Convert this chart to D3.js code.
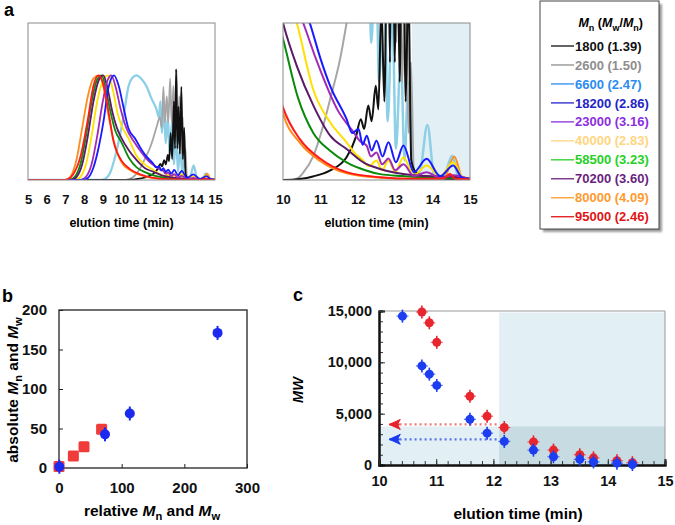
<!DOCTYPE html>
<html>
<head>
<meta charset="utf-8">
<script src="https://cdn.jsdelivr.net/npm/d3@7"></script>
<style>
body { margin: 0; background: #fff; }
svg { font-family: "Liberation Sans", Arial, sans-serif; font-weight: bold; }
</style>
</head>
<body>
<div id="chart"></div>
<script>
//1. Data
// legend: Mn and PDI of each sample
var mnValues = ["1800", "2600", "6600", "18200", "23000", "40000", "58500", "70200", "80000", "95000"];
var pdiValues = ["1.39", "1.50", "2.47", "2.86", "3.16", "2.83", "3.23", "3.60", "4.09", "2.46"];

// chromatograms [elution time (min), normalised intensity]
var curve1800 = [[5,0],[10,0],[10.5,0.003],[10.8,0.009],[11.25,0.024],[11.7,0.058],[11.95,0.11],[12.08,0.155],[12.17,0.13],[12.28,0.19],[12.37,0.15],[12.48,0.24],[12.55,0.18],[12.63,0.45],[12.71,0.2],[12.8,0.75],[12.86,0.3],[12.92,1.06],[12.99,0.3],[13.05,0.7],[13.12,0.25],[13.2,0.89],[13.28,0.2],[13.35,0.5],[13.43,0.05],[13.55,0.02],[13.8,0.008],[14.2,0.004],[15,0.002]];
var curve2600 = [[5,0],[10.2,0],[10.4,0.005],[10.55,0.02],[10.81,0.061],[11.05,0.13],[11.26,0.206],[11.53,0.31],[11.7,0.4],[11.9,0.52],[12.05,0.6],[12.15,0.5],[12.24,0.89],[12.32,0.55],[12.42,0.8],[12.5,0.55],[12.6,0.97],[12.68,0.55],[12.78,0.9],[12.86,0.45],[12.95,1.05],[13.03,0.35],[13.1,0.8],[13.18,0.25],[13.28,0.6],[13.36,0.12],[13.42,0.3],[13.5,0.02],[13.7,0.005],[15,0]];
var curve6600 = [[5,0],[8.8,0],[9.1,0.01],[9.38,0.064],[9.7,0.25],[10.1,0.6],[10.37,0.89],[10.6,0.98],[10.81,1.0],[11.05,0.97],[11.35,0.89],[11.6,0.78],[11.88,0.67],[12.0,0.6],[12.08,0.75],[12.16,0.45],[12.27,0.7],[12.36,0.35],[12.48,0.6],[12.57,0.25],[12.7,0.55],[12.8,0.15],[12.92,0.45],[13.02,0.08],[13.15,0.32],[13.25,0.05],[13.35,0.25],[13.48,0.02],[13.65,0.02],[13.86,0.14],[14.05,0.01],[14.3,0.01],[14.52,0.062],[14.7,0.005],[15,0]];
var curve18200 = [[5,0],[7.9,0],[8.2,0.02],[8.5,0.12],[8.8,0.33],[9.03,0.55],[9.3,0.88],[9.6,1.0],[9.85,0.9],[10.1,0.7],[10.36,0.5],[10.75,0.39],[11.0,0.31],[11.26,0.24],[11.7,0.155],[11.85,0.12],[12.02,0.13],[12.13,0.09],[12.24,0.113],[12.37,0.075],[12.5,0.1],[12.66,0.06],[12.82,0.096],[13.02,0.045],[13.22,0.088],[13.5,0.02],[13.84,0.054],[14.2,0.01],[14.55,0.037],[14.8,0.005],[15,0.003]];
var curve23000 = [[5,0],[7.8,0],[8.1,0.03],[8.4,0.15],[8.7,0.42],[9.0,0.75],[9.25,0.95],[9.45,1.0],[9.7,0.88],[9.95,0.68],[10.25,0.5],[10.69,0.36],[11.02,0.274],[11.45,0.18],[11.9,0.12],[12.05,0.1],[12.24,0.087],[12.35,0.06],[12.5,0.07],[12.65,0.04],[12.82,0.055],[13.0,0.025],[13.22,0.04],[13.5,0.01],[13.84,0.02],[14.2,0.005],[14.55,0.012],[15,0.002]];
var curve40000 = [[5,0],[7.5,0],[7.8,0.03],[8.1,0.15],[8.4,0.42],[8.7,0.75],[9.0,0.95],[9.3,1.0],[9.55,0.85],[9.8,0.63],[10.05,0.5],[10.37,0.4],[10.81,0.23],[11.26,0.147],[11.7,0.096],[11.95,0.065],[12.1,0.054],[12.3,0.035],[12.5,0.05],[12.65,0.025],[12.82,0.05],[13.0,0.02],[13.22,0.058],[13.5,0.012],[13.84,0.037],[14.2,0.01],[14.55,0.045],[14.8,0.008],[15,0.005]];
var curve58500 = [[5,0],[7.2,0],[7.5,0.03],[7.8,0.15],[8.1,0.42],[8.4,0.75],[8.7,0.96],[8.94,1.0],[9.15,0.88],[9.4,0.66],[9.65,0.48],[10.0,0.36],[10.4,0.21],[10.81,0.12],[11.25,0.075],[11.7,0.045],[12.2,0.025],[12.6,0.015],[13.2,0.01],[13.85,0.006],[14.55,0.005],[15,0.002]];
var curve70200 = [[5,0],[7.3,0],[7.6,0.03],[7.9,0.15],[8.2,0.42],[8.5,0.75],[8.8,0.96],[9.03,1.0],[9.25,0.88],[9.5,0.66],[9.75,0.5],[10.0,0.4],[10.37,0.29],[10.81,0.19],[11.26,0.113],[11.7,0.079],[12.15,0.045],[12.6,0.028],[13.22,0.015],[13.84,0.01],[14.55,0.008],[15,0.003]];
var curve80000 = [[5,0],[7.0,0],[7.3,0.04],[7.6,0.2],[7.9,0.5],[8.2,0.8],[8.5,0.97],[8.8,1.0],[9.05,0.88],[9.3,0.62],[9.55,0.4],[9.8,0.25],[10.0,0.17],[10.45,0.095],[11.0,0.048],[11.7,0.017],[12.6,0.006],[13.5,0.003],[14.3,0.004],[14.58,0.06],[14.8,0.005],[15,0.002]];
var curve95000 = [[5,0],[6.8,0],[7.1,0.005],[7.4,0.05],[7.8,0.22],[8.2,0.58],[8.5,0.9],[8.76,1.0],[9.0,0.93],[9.2,0.76],[9.4,0.55],[9.56,0.38],[9.75,0.27],[10.0,0.185],[10.45,0.104],[11.0,0.054],[11.7,0.02],[12.6,0.007],[13.5,0.003],[14.3,0.004],[14.47,0.015],[14.6,0.003],[15,0.002]];

// panel b: absolute vs relative molecular weight (kDa)
var bRelRed = [0, 22.9, 39.9, 68];
var bAbsRed = [2, 15.2, 27, 49];
var bRelBlue = [0.5, 73.4, 113, 253];
var bAbsBlue = [1.6, 42.6, 69, 171];

// panel c: MW against elution time
var cTimeRed = [10.75, 10.88, 11.01, 11.59, 11.89, 12.19, 12.70, 13.05, 13.51, 13.75, 14.16, 14.43];
var cMwRed = [14900, 13850, 11950, 6700, 4750, 3650, 2250, 1450, 1000, 700, 420, 220];
var cTimeBlue = [10.41, 10.75, 10.88, 11.01, 11.59, 11.89, 12.19, 12.70, 13.05, 13.51, 13.75, 14.16, 14.43];
var cMwBlue = [14500, 9650, 8850, 7750, 4450, 3100, 2300, 1450, 800, 550, 300, 180, 50];
var cLimitRed = 3950;
var cLimitBlue = 2500;

//2. Series table (draw order, bottom first)
var curves = [curve1800, curve2600, curve6600, curve18200, curve23000, curve40000, curve58500, curve70200, curve80000, curve95000];
var lineColors = ["#111111", "#a6a6a6", "#8ccfe6", "#1a1aff", "#a12bb5", "#ffe000", "#0a8a0a", "#5a1a66", "#ff8c1a", "#ff1a1a"];
var legendColors = ["#111111", "#8e8e8e", "#2b8cf0", "#2323c8", "#8b2ee0", "#ffd580", "#25d025", "#6a1f7e", "#ff9a2e", "#e01515"];
var drawOrder = [2, 1, 0, 8, 5, 6, 7, 4, 3, 9];

var svg = d3.select("#chart").append("svg")
    .attr("width", 675)
    .attr("height", 525);

var defs = svg.append("defs");
defs.append("filter").attr("id", "soft")
    .append("feGaussianBlur").attr("stdDeviation", 0.6);
defs.append("filter").attr("id", "shadow")
    .append("feGaussianBlur").attr("stdDeviation", 1.2);

// helper for italic / subscript labels
function richText(sel, parts, size) {
    var sub = false;
    parts.forEach(function (p) {
        var ts = sel.append("tspan").text(p.t);
        if (p.i) ts.attr("font-style", "italic");
        if (p.s) {
            ts.attr("font-size", size * 0.72);
            if (!sub) ts.attr("dy", size * 0.28);
            sub = true;
        } else if (sub) {
            ts.attr("dy", -size * 0.28);
            sub = false;
        }
    });
}

function panelLetter(x, y, s) {
    svg.append("text").attr("x", x).attr("y", y)
        .attr("font-size", "18px").text(s);
}

//3. Panel a - chromatograms
function chromPanel(x, y, clipId, lw) {
    var g = svg.append("g");
    defs.append("clipPath").attr("id", clipId).append("rect")
        .attr("x", x.range()[0]).attr("y", y.range()[1])
        .attr("width", x.range()[1] - x.range()[0])
        .attr("height", y.range()[0] - y.range()[1]);
    var line = d3.line()
        .x(function (d) { return x(d[0]); })
        .y(function (d) { return y(d[1]); })
        .curve(d3.curveMonotoneX);
    var inner = g.append("g").attr("clip-path", "url(#" + clipId + ")");
    drawOrder.forEach(function (k) {
        inner.append("path")
            .attr("d", line(curves[k]))
            .attr("fill", "none")
            .attr("stroke", lineColors[k])
            .attr("stroke-width", k == 2 ? lw + 0.5 : lw)
            .attr("stroke-linejoin", "round");
    });
    g.append("rect")
        .attr("x", x.range()[0]).attr("y", y.range()[1])
        .attr("width", x.range()[1] - x.range()[0])
        .attr("height", y.range()[0] - y.range()[1])
        .attr("fill", "none").attr("stroke", "#8a8a8a").attr("stroke-width", 1);
    var ax = g.append("g")
        .attr("transform", "translate(0," + y.range()[0] + ")")
        .call(d3.axisBottom(x).tickValues(d3.range(x.domain()[0], x.domain()[1] + 1)).tickFormat(d3.format("d")).tickSize(0).tickPadding(15));
    ax.select(".domain").remove();
    ax.selectAll("text").attr("font-size", "13px").attr("font-family", null).attr("fill", "#111");
    g.append("text")
        .attr("x", (x.range()[0] + x.range()[1]) / 2)
        .attr("y", 227)
        .attr("text-anchor", "middle")
        .attr("font-size", "12.5px")
        .text("elution time (min)");
    return g;
}

var xa1 = d3.scaleLinear().domain([5, 15]).range([28, 215]);
var ya1 = d3.scaleLinear().domain([0, 1.5]).range([180, 23]);
var xa2 = d3.scaleLinear().domain([10, 15]).range([283, 470]);
var ya2 = d3.scaleLinear().domain([0, 0.4]).range([180, 23]);

// shaded oligomer region on the zoomed chromatogram
svg.append("rect")
    .attr("x", xa2(13.45)).attr("y", ya2(0.4))
    .attr("width", xa2(15) - xa2(13.45))
    .attr("height", ya2(0) - ya2(0.4))
    .attr("fill", "#e2f0f6");

chromPanel(xa1, ya1, "clipA1", 1.8);
chromPanel(xa2, ya2, "clipA2", 2);
panelLetter(4, 16, "a");

//4. Legend
var legend = svg.append("g");
legend.append("rect")
    .attr("x", 543).attr("y", 4).attr("width", 119).attr("height", 228)
    .attr("fill", "#9a9a9a").attr("filter", "url(#shadow)");
legend.append("rect")
    .attr("x", 540).attr("y", 1).attr("width", 119).attr("height", 228)
    .attr("fill", "#fff").attr("stroke", "#444").attr("stroke-width", 1);
var title = legend.append("text")
    .attr("x", 643).attr("y", 27)
    .attr("text-anchor", "end")
    .attr("font-size", "12.5px");
richText(title, [{t: "M", i: 1}, {t: "n", s: 1}, {t: " ("}, {t: "M", i: 1}, {t: "w", s: 1}, {t: "/"}, {t: "M", i: 1}, {t: "n", s: 1}, {t: ")"}], 12.5);

mnValues.forEach(function (mn, i) {
    var row = legend.append("g")
        .attr("transform", "translate(0," + (46 + i * 18.97) + ")");
    row.append("line")
        .attr("x1", 551).attr("x2", 574)
        .attr("stroke", legendColors[i]).attr("stroke-width", 1.3);
    row.append("text")
        .attr("x", 575).attr("y", 4.6)
        .attr("font-size", "13px")
        .attr("fill", legendColors[i])
        .text(mn + " (" + pdiValues[i] + ")");
});

//5. Panel b
var xb = d3.scaleLinear().domain([0, 300]).range([59, 247]);
var yb = d3.scaleLinear().domain([0, 200]).range([468, 310]);
var gb = svg.append("g");

gb.append("rect")
    .attr("x", 59).attr("y", 310).attr("width", 188).attr("height", 158)
    .attr("fill", "none").attr("stroke", "#222").attr("stroke-width", 1.3);

var bxAxis = gb.append("g").attr("transform", "translate(0,468)")
    .call(d3.axisBottom(xb).tickValues([0, 100, 200, 300]).tickSize(-4).tickPadding(14));
var byAxis = gb.append("g").attr("transform", "translate(59,0)")
    .call(d3.axisLeft(yb).tickValues([0, 50, 100, 150, 200]).tickSize(-4).tickPadding(12));
[bxAxis, byAxis].forEach(function (a) {
    a.select(".domain").remove();
    a.selectAll("text").attr("font-size", "15px").attr("font-family", null).attr("fill", "#111");
    a.selectAll("line").attr("stroke", "#222");
});

gb.selectAll(".sq").data(bRelRed).enter().append("rect")
    .attr("x", function (d) { return xb(d) - 5.5; })
    .attr("y", function (d, i) { return yb(bAbsRed[i]) - 5.5; })
    .attr("width", 11).attr("height", 11).attr("rx", 1.5)
    .attr("fill", "#f03a3a").attr("filter", "url(#soft)");

gb.selectAll(".eb").data(bRelBlue).enter().append("line")
    .attr("x1", function (d) { return xb(d); })
    .attr("x2", function (d) { return xb(d); })
    .attr("y1", function (d, i) { return yb(bAbsBlue[i]) - 7; })
    .attr("y2", function (d, i) { return yb(bAbsBlue[i]) + 7; })
    .attr("stroke", "#1a2cf0").attr("stroke-width", 2);
gb.selectAll(".dot").data(bRelBlue).enter().append("circle")
    .attr("cx", function (d) { return xb(d); })
    .attr("cy", function (d, i) { return yb(bAbsBlue[i]); })
    .attr("r", 5)
    .attr("fill", "#1a2cf0").attr("filter", "url(#soft)");

var bxl = gb.append("text").attr("x", 152).attr("y", 516)
    .attr("text-anchor", "middle").attr("font-size", "15.5px");
richText(bxl, [{t: "relative "}, {t: "M", i: 1}, {t: "n", s: 1}, {t: " and "}, {t: "M", i: 1}, {t: "w", s: 1}], 15.5);
var byl = gb.append("text")
    .attr("transform", "translate(18,390) rotate(-90)")
    .attr("text-anchor", "middle").attr("font-size", "15.5px");
richText(byl, [{t: "absolute "}, {t: "M", i: 1}, {t: "n", s: 1}, {t: " and "}, {t: "M", i: 1}, {t: "w", s: 1}], 15.5);
panelLetter(2, 302, "b");

//6. Panel c
var xc = d3.scaleLinear().domain([10, 15]).range([379, 665]);
var yc = d3.scaleLinear().domain([0, 15000]).range([465, 311]);
var gc = svg.append("g");

// shaded regions: late elution window and low-MW strip
gc.append("rect")
    .attr("x", xc(12.1)).attr("y", yc(14850))
    .attr("width", xc(15) - xc(12.1)).attr("height", yc(0) - yc(14850))
    .attr("fill", "#e2f0f6");
gc.append("rect")
    .attr("x", xc(10)).attr("y", yc(3750))
    .attr("width", xc(12.1) - xc(10)).attr("height", yc(0) - yc(3750))
    .attr("fill", "#e2f0f6");
gc.append("rect")
    .attr("x", xc(12.1)).attr("y", yc(3750))
    .attr("width", xc(15) - xc(12.1)).attr("height", yc(0) - yc(3750))
    .attr("fill", "#c6dbe2");

// dotted guide lines with arrow heads
[[cLimitRed, "#f07878", "#e8202a"], [cLimitBlue, "#5a72e6", "#1a3cf0"]].forEach(function (d) {
    gc.append("line")
        .attr("x1", xc(10.36)).attr("x2", xc(12.1))
        .attr("y1", yc(d[0])).attr("y2", yc(d[0]))
        .attr("stroke", d[1]).attr("stroke-width", 2.2)
        .attr("stroke-dasharray", "2,3");
    var tx = xc(10.18), ty = yc(d[0]);
    gc.append("path")
        .attr("d", "M" + tx + "," + ty + "L" + (tx + 11) + "," + (ty - 5) + "L" + (tx + 8) + "," + ty +
            "L" + (tx + 11) + "," + (ty + 5) + "Z")
        .attr("fill", d[2]).attr("stroke", d[2]).attr("stroke-width", 1);
    gc.append("line")
        .attr("x1", tx).attr("x2", xc(10.36))
        .attr("y1", ty).attr("y2", ty)
        .attr("stroke", d[2]).attr("stroke-width", 2);
});

// frame
gc.append("line").attr("x1", 379).attr("x2", 665).attr("y1", 311).attr("y2", 311).attr("stroke", "#999");
gc.append("line").attr("x1", 665).attr("x2", 665).attr("y1", 311).attr("y2", 465).attr("stroke", "#999");

var cyMinor = gc.append("g").attr("transform", "translate(379,0)")
    .call(d3.axisLeft(yc).tickValues(d3.range(0, 15001, 1000)).tickSize(-4).tickFormat(""));
var cxMinor = gc.append("g").attr("transform", "translate(0,465)")
    .call(d3.axisBottom(xc).tickValues(d3.range(0, 26).map(function (i) { return 10 + i * 0.2; })).tickSize(-4).tickFormat(""));
var cyAxis = gc.append("g").attr("transform", "translate(379,0)")
    .call(d3.axisLeft(yc).tickValues([0, 5000, 10000, 15000]).tickFormat(d3.format(",")).tickSize(-6).tickPadding(7));
var cxAxis = gc.append("g").attr("transform", "translate(0,465)")
    .call(d3.axisBottom(xc).tickValues([10, 11, 12, 13, 14, 15]).tickFormat(d3.format("d")).tickSize(-6).tickPadding(11));
[cyMinor, cxMinor, cyAxis, cxAxis].forEach(function (a) {
    a.select(".domain").attr("stroke", "#111").attr("stroke-width", 2);
    a.selectAll("line").attr("stroke", "#333");
    a.selectAll("text").attr("font-size", "14.5px").attr("font-family", null).attr("fill", "#111");
});

function errPoints(times, mws, color) {
    var p = gc.append("g").attr("filter", "url(#soft)");
    p.selectAll("line.v").data(times).enter().append("line")
        .attr("x1", function (d) { return xc(d); })
        .attr("x2", function (d) { return xc(d); })
        .attr("y1", function (d, i) { return yc(mws[i]) - 6.5; })
        .attr("y2", function (d, i) { return yc(mws[i]) + 6.5; })
        .attr("stroke", color).attr("stroke-width", 1.6);
    p.selectAll("line.h").data(times).enter().append("line")
        .attr("x1", function (d) { return xc(d) - 6; })
        .attr("x2", function (d) { return xc(d) + 6; })
        .attr("y1", function (d, i) { return yc(mws[i]); })
        .attr("y2", function (d, i) { return yc(mws[i]); })
        .attr("stroke", color).attr("stroke-width", 1.2).attr("opacity", 0.7);
    p.selectAll("circle").data(times).enter().append("circle")
        .attr("cx", function (d) { return xc(d); })
        .attr("cy", function (d, i) { return yc(mws[i]); })
        .attr("r", 4.5)
        .attr("fill", color);
}
errPoints(cTimeRed, cMwRed, "#e8262e");
errPoints(cTimeBlue, cMwBlue, "#1a3cf0");

gc.append("text").attr("x", 518).attr("y", 519)
    .attr("text-anchor", "middle").attr("font-size", "15.5px")
    .text("elution time (min)");
gc.append("text")
    .attr("transform", "translate(303,390) rotate(-90)")
    .attr("text-anchor", "middle").attr("font-size", "14.5px")
    .attr("font-style", "italic")
    .text("MW");
panelLetter(293, 301, "c");
</script>
</body>
</html>
